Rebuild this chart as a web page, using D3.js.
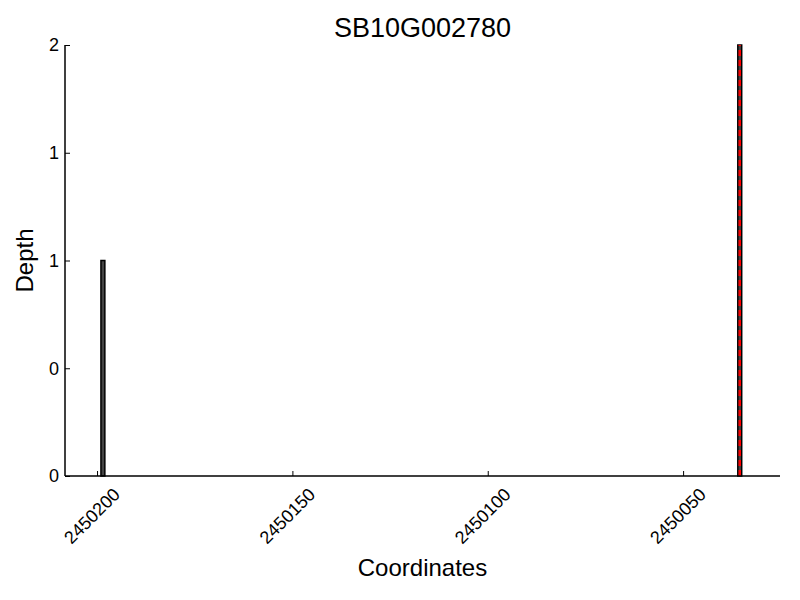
<!DOCTYPE html>
<meta charset="utf-8">
<head>
  <script src="https://d3js.org/d3.v7.min.js"></script>
  <style>
    body { margin: 0; background: #fff; }
    text { font-family: "Liberation Sans", Arial, sans-serif; }
  </style>
</head>
<body>
<svg width="800" height="600"></svg>
<script>
  // depth per coordinate
  var positions = [2450199, 2450036];
  var depths = [1, 2];
  // highlighted coordinate (red dashed marker)
  var markers = [2450035.5];
  var xTicks = [2450200, 2450150, 2450100, 2450050];
  var yTicks = [0, 0.5, 1, 1.5, 2];

  var svg = d3.select("svg");
  var margin = {top: 45, right: 20, bottom: 124, left: 65};
  var width = 800 - margin.left - margin.right;
  var height = 600 - margin.top - margin.bottom;

  var g = svg.append("g").attr("transform", "translate(" + margin.left + "," + margin.top + ")");

  // reversed coordinate axis
  var x = d3.scaleLinear().domain([2450208.2, 2450025.2]).range([0, width]);
  var y = d3.scaleLinear().domain([0, 2]).range([height, 0]);

  g.selectAll(".bar")
    .data(positions)
    .enter()
    .append("rect")
      .attr("class", "bar")
      .attr("x", function(d){ return x(d); })
      .attr("width", function(d){ return x(d - 1) - x(d); })
      .attr("y", function(d, i){ return y(depths[i]); })
      .attr("height", function(d, i){ return y(0) - y(depths[i]); })
      .style("fill", "#444")
      .style("stroke", "#000")
      .style("stroke-width", 1.5);

  g.selectAll(".marker")
    .data(markers)
    .enter()
    .append("line")
      .attr("x1", function(d){ return x(d); })
      .attr("x2", function(d){ return x(d); })
      .attr("y1", y(0))
      .attr("y2", y(2))
      .style("stroke", "red")
      .style("stroke-width", 2.5)
      .style("stroke-dasharray", "6,4");

  var xAxis = g.append("g")
    .attr("transform", "translate(0," + height + ")")
    .call(d3.axisBottom(x).tickValues(xTicks).tickFormat(d3.format("d")).tickSize(-5).tickSizeOuter(0).tickPadding(8));
  xAxis.select(".domain").attr("d", "M0,0H" + width).style("stroke-width", 1.5);
  xAxis.selectAll("text")
    .style("font-size", "18px")
    .attr("text-anchor", "end")
    .attr("dy", "0.7em")
    .attr("transform", "translate(9,5) rotate(-45)");

  var yAxis = g.append("g")
    .call(d3.axisLeft(y).tickValues(yTicks).tickFormat(function(d){ return Math.floor(d); }).tickSize(-5).tickSizeOuter(0).tickPadding(6));
  yAxis.select(".domain").attr("d", "M0," + height + "V0").style("stroke-width", 1.5);
  yAxis.selectAll("text").style("font-size", "18px");

  svg.append("text")
    .attr("x", margin.left + width / 2)
    .attr("y", 37)
    .attr("text-anchor", "middle")
    .style("font-size", "27px")
    .text("SB10G002780");

  svg.append("text")
    .attr("x", margin.left + width / 2)
    .attr("y", 576)
    .attr("text-anchor", "middle")
    .style("font-size", "24px")
    .text("Coordinates");

  svg.append("text")
    .attr("transform", "translate(33," + (margin.top + height / 2) + ") rotate(-90)")
    .attr("text-anchor", "middle")
    .style("font-size", "24px")
    .text("Depth");
</script>
</body>
